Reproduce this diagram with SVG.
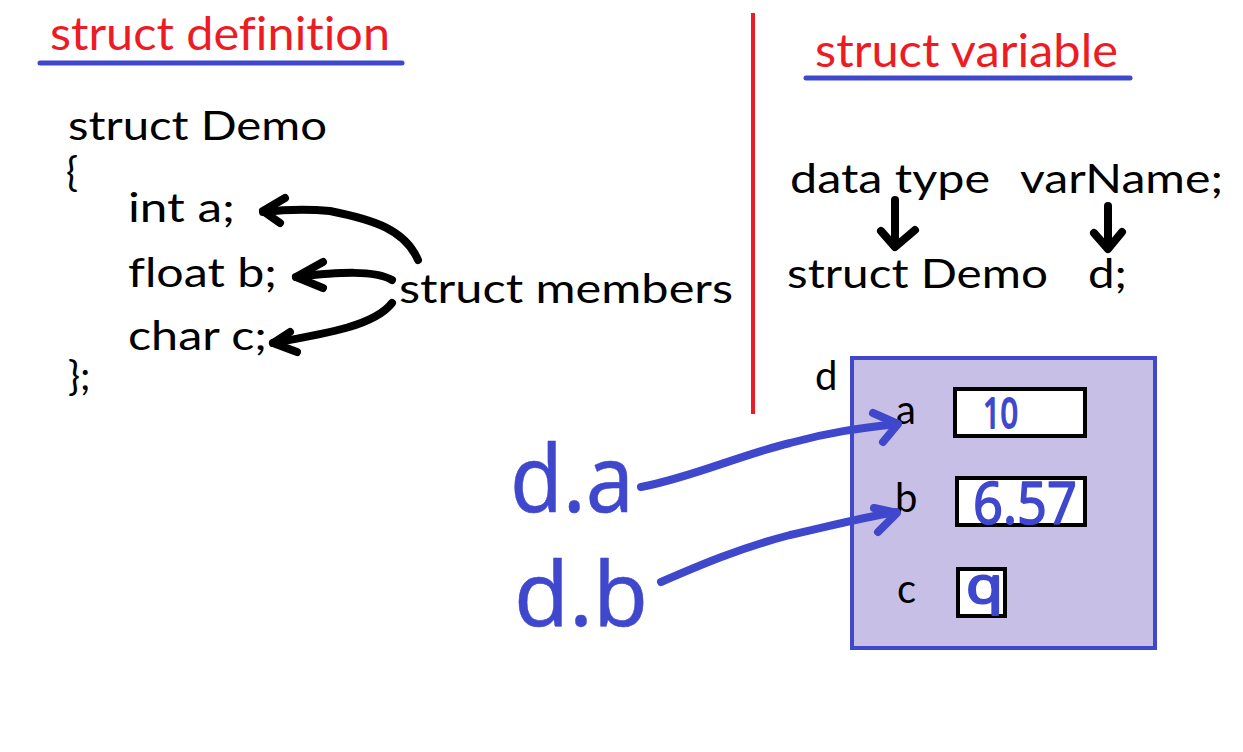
<svg xmlns="http://www.w3.org/2000/svg" width="1243" height="752" viewBox="0 0 1243 752">
<defs>
<style>
text{font-variant-ligatures:none;font-feature-settings:"liga" 0,"clig" 0,"dlig" 0}
.hdr{font-family:Lato,"Liberation Sans",sans-serif;font-size:47px;fill:#ed1c24}
.code{font-family:Lato,"Liberation Sans",sans-serif;font-size:40px;fill:#000}
.hand{font-family:"Noto Sans","DejaVu Sans",sans-serif;fill:#3f48cc;stroke:#3f48cc;stroke-linejoin:round}
.uline{stroke:#3f48cc;stroke-width:5;stroke-linecap:round;fill:none}
.blk{stroke:#000;stroke-width:8;stroke-linecap:round;stroke-linejoin:round;fill:none}
.blu{stroke:#3f48cc;stroke-width:8;stroke-linecap:round;stroke-linejoin:round;fill:none}
.cell{fill:#fff;stroke:#000;stroke-width:4}
</style>
</defs>
<rect width="1243" height="752" fill="#fff"/>
<g id="headers">
<text class="hdr" x="50" y="50" textLength="340" lengthAdjust="spacingAndGlyphs">struct definition</text>
<line class="uline" x1="40" y1="63" x2="402" y2="63"/>
<text class="hdr" x="815" y="67" textLength="303" lengthAdjust="spacingAndGlyphs">struct variable</text>
<line class="uline" x1="806" y1="78" x2="1130" y2="78"/>
</g>
<g id="divider">
<line x1="753" y1="13" x2="753" y2="414" stroke="#ed1c24" stroke-width="4"/>
</g>
<g id="code">
<text class="code" x="68" y="140" textLength="259" lengthAdjust="spacingAndGlyphs">struct Demo</text>
<text class="code" x="66" y="186">{</text>
<text class="code" x="128" y="222" textLength="107" lengthAdjust="spacingAndGlyphs">int a;</text>
<text class="code" x="128" y="287" textLength="149" lengthAdjust="spacingAndGlyphs">float b;</text>
<text class="code" x="128" y="350" textLength="139" lengthAdjust="spacingAndGlyphs">char c;</text>
<text class="code" x="68" y="390">};</text>
</g>
<g id="members-label">
<text class="code" x="399" y="303" textLength="334" lengthAdjust="spacingAndGlyphs">struct members</text>
</g>
<g id="syntax">
<text class="code" x="790" y="193" textLength="200" lengthAdjust="spacingAndGlyphs">data type</text>
<text class="code" x="1020" y="193" textLength="203" lengthAdjust="spacingAndGlyphs">varName;</text>
<text class="code" x="787" y="288" textLength="261" lengthAdjust="spacingAndGlyphs">struct Demo</text>
<text class="code" x="1088" y="288" textLength="39" lengthAdjust="spacingAndGlyphs">d;</text>
</g>
<g id="var-d">
<text class="code" x="815" y="390">d</text>
<rect x="852" y="358" width="303" height="290" fill="#c8bfe7" stroke="#3f48cc" stroke-width="4"/>
<text class="code" x="896" y="424">a</text>
<text class="code" x="895" y="512">b</text>
<text class="code" x="897" y="603">c</text>
<rect class="cell" x="955" y="389" width="130" height="47"/>
<rect class="cell" x="957" y="478" width="128" height="47"/>
<rect class="cell" x="958" y="569" width="47" height="47"/>
<text class="hand" x="983" y="428" font-size="42" stroke-width="2" textLength="35" lengthAdjust="spacingAndGlyphs">10</text>
<text class="hand" x="973" y="524" font-size="58" stroke-width="1.5" textLength="104" lengthAdjust="spacingAndGlyphs">6.57</text>
<text class="hand" x="966" y="603" font-size="50" stroke-width="2" textLength="37" lengthAdjust="spacingAndGlyphs">q</text>
</g>
<g id="access">
<text class="hand" x="510" y="512" font-size="94" stroke-width="0.5" textLength="124" lengthAdjust="spacingAndGlyphs">d.a</text>
<text class="hand" x="514" y="626" font-size="90" stroke-width="0.5" textLength="134" lengthAdjust="spacingAndGlyphs">d.b</text>
</g>
<g id="connectors">
<path class="blk" d="M418,260 C405,230 375,220 330,211 C300,208 280,210 263,212"/>
<path class="blk" d="M285,198 L263,211 L280,223"/>
<path class="blk" d="M392,280 C375,270 340,272 296,277"/>
<path class="blk" d="M323,262 L296,277 L323,288"/>
<path class="blk" d="M392,303 C375,325 330,333 273,343"/>
<path class="blk" d="M290,332 L273,343 L297,352"/>
<path class="blk" d="M895,200 L895,246"/>
<path class="blk" d="M881,231 L895,247 L915,230"/>
<path class="blk" d="M1108,206 L1108,248"/>
<path class="blk" d="M1094,233 L1108,249 L1122,232"/>
<path class="blu" d="M641,487 C690,478 740,455 790,443 C830,432 860,428 897,424"/>
<path class="blu" d="M873,413 L898,424 L883,442"/>
<path class="blu" d="M661,582 C700,565 740,548 790,535 C830,526 860,518 896,512"/>
<path class="blu" d="M874,508 L897,513 L878,532"/>
</g>
</svg>
